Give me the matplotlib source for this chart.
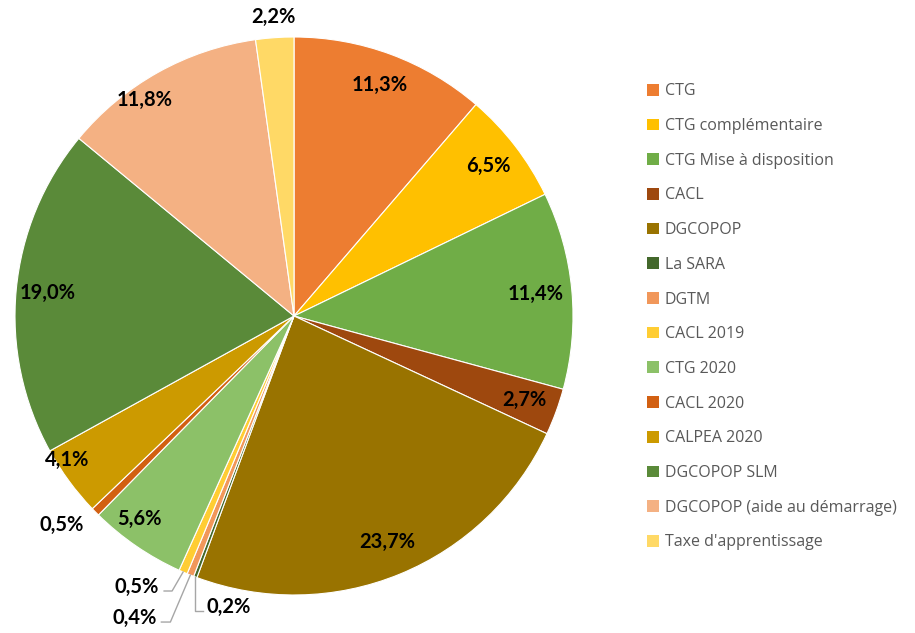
import matplotlib
matplotlib.use("Agg")
import matplotlib.pyplot as plt
import numpy as np
from matplotlib.lines import Line2D

categories = ["CTG", "CTG complémentaire", "CTG Mise à disposition", "CACL", "DGCOPOP",
              "La SARA", "DGTM", "CACL 2019", "CTG 2020", "CACL 2020", "CALPEA 2020",
              "DGCOPOP SLM", "DGCOPOP (aide au démarrage)", "Taxe d'apprentissage"]
values = [11.3, 6.5, 11.4, 2.7, 23.7, 0.2, 0.4, 0.5, 5.6, 0.5, 4.1, 19.0, 11.8, 2.2]
colors = ["#ED7D31", "#FFC000", "#70AD47", "#9E480E", "#997300", "#43682B", "#F1975A",
          "#FFCD33", "#8CC168", "#D26012", "#CC9A00", "#5A8A39", "#F4B183", "#FFD966"]

# label placement styles (fraction of radius, angular nudge in degrees); None -> leader-line label
label_dist = [0.885, 0.88, 0.87, 0.88, 0.875, None, None, None, 0.914, 1.12, 0.963, 0.885, 0.94, 1.075]
label_nudge = [0, 0, 0, 0, 0, 0, 0, 0, -3, -2.6, -4, 0, 5.5, 0]

W, H = 915, 633
fig = plt.figure(figsize=(W / 100, H / 100), dpi=100)
ax = fig.add_axes([0, 0, 1, 1])

cx, cy, R = 294, 317, 279
wedges, _ = ax.pie(values, colors=colors, startangle=90, counterclock=False,
                   center=(cx, cy), radius=R, frame=True,
                   wedgeprops=dict(edgecolor="white", linewidth=0.8))
ax.set_xlim(0, W)
ax.set_ylim(0, H)
ax.set_aspect("equal")
ax.axis("off")

lab_font = dict(family=["Lato", "DejaVu Sans"], fontsize=14.5, fontweight="bold", color="black")
for w, v, d, nd in zip(wedges, values, label_dist, label_nudge):
    ang = np.deg2rad((w.theta1 + w.theta2) / 2 + nd)
    txt = f"{v:.1f}%".replace(".", ",")
    if d is not None:
        ax.text(cx + d * R * np.cos(ang), cy + d * R * np.sin(ang), txt,
                ha="center", va="center", **lab_font)

# leader-line labels for tiny slices
leader = {5: (0, -34, 8, "left"), 6: (-20, -47, -9, "right"), 7: (-11, -19, -8, "right")}
for i, (ddx, ddy, hx, ha) in leader.items():
    w = wedges[i]
    ang = np.deg2rad((w.theta1 + w.theta2) / 2)
    x0, y0 = cx + R * np.cos(ang), cy + R * np.sin(ang)
    x1, y1 = x0 + ddx, y0 + ddy
    x2 = x1 + hx
    ax.add_line(Line2D([x0, x1, x2], [y0, y1, y1], color="#A6A6A6", lw=1))
    off = 3 if ha == "left" else -5
    txt = f"{values[i]:.1f}%".replace(".", ",")
    ax.text(x2 + off, y1 + 4, txt, ha=ha, va="center", **lab_font)

handles = [plt.Rectangle((0, 0), 1, 1, facecolor=c, edgecolor="none") for c in colors]
leg = fig.legend(handles, categories, loc="upper left", bbox_to_anchor=(641 / W, 1 - 77 / H),
                 frameon=False, handlelength=0.75, handleheight=0.75, handletextpad=0.35,
                 labelspacing=1.17, prop=dict(family=["Open Sans", "DejaVu Sans"], size=11.5),
                 labelcolor="#595959", borderaxespad=0)

fig.savefig("out.png", dpi=100)
